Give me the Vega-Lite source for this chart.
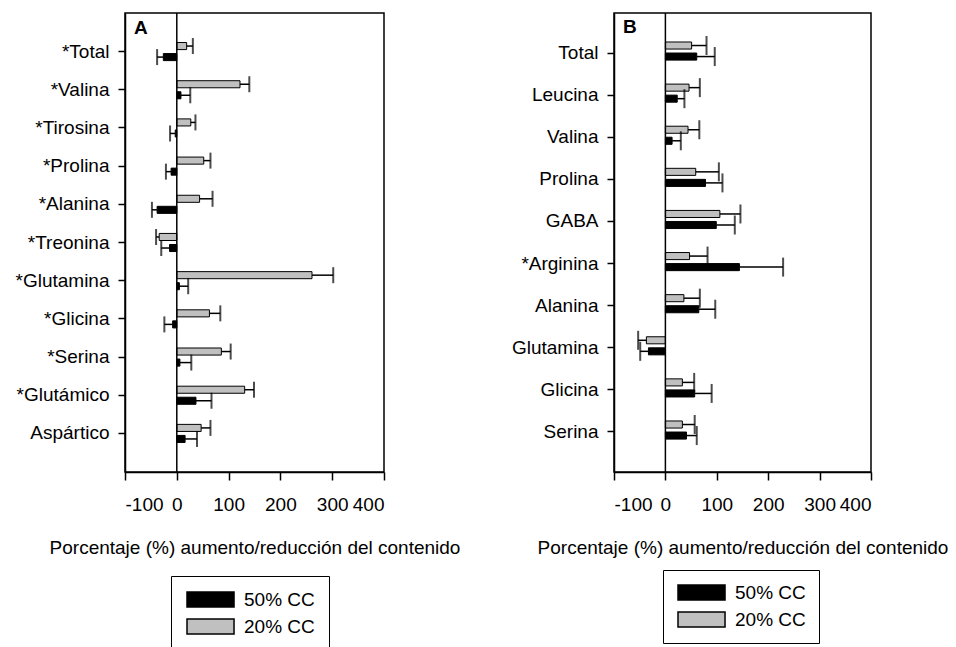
{
  "$schema": "https://vega.github.io/schema/vega-lite/v6.json",
  "padding": {"left": 14, "top": 11, "right": 0, "bottom": 0},
  "background": "white",
  "config": {
    "font": "Liberation Sans",
    "view": {"stroke": "black", "strokeWidth": 1.5},
    "axis": {"domainColor": "black", "domainWidth": 1.5, "tickColor": "black", "tickWidth": 1.5, "labelColor": "black", "titleColor": "black", "labelFont": "Liberation Sans", "titleFont": "Liberation Sans", "labelFontSize": 19, "titleFontSize": 19, "titleFontWeight": "normal", "grid": false},
    "legend": {"labelFont": "Liberation Sans", "labelFontSize": 19, "labelColor": "black"}
  },
  "datasets": {
    "d": [
      {"panel": "A", "amino": "*Total", "cond": "20% CC", "value": 19, "end": 31},
      {"panel": "A", "amino": "*Total", "cond": "50% CC", "value": -26, "end": -38},
      {"panel": "A", "amino": "*Valina", "cond": "20% CC", "value": 122, "end": 140},
      {"panel": "A", "amino": "*Valina", "cond": "50% CC", "value": 8, "end": 26},
      {"panel": "A", "amino": "*Tirosina", "cond": "20% CC", "value": 27, "end": 36},
      {"panel": "A", "amino": "*Tirosina", "cond": "50% CC", "value": -3, "end": -13},
      {"panel": "A", "amino": "*Prolina", "cond": "20% CC", "value": 52, "end": 65},
      {"panel": "A", "amino": "*Prolina", "cond": "50% CC", "value": -11, "end": -21},
      {"panel": "A", "amino": "*Alanina", "cond": "20% CC", "value": 44, "end": 69},
      {"panel": "A", "amino": "*Alanina", "cond": "50% CC", "value": -38, "end": -48},
      {"panel": "A", "amino": "*Treonina", "cond": "20% CC", "value": -34, "end": -40},
      {"panel": "A", "amino": "*Treonina", "cond": "50% CC", "value": -14, "end": -30},
      {"panel": "A", "amino": "*Glutamina", "cond": "20% CC", "value": 261, "end": 302},
      {"panel": "A", "amino": "*Glutamina", "cond": "50% CC", "value": 5, "end": 22},
      {"panel": "A", "amino": "*Glicina", "cond": "20% CC", "value": 63, "end": 84},
      {"panel": "A", "amino": "*Glicina", "cond": "50% CC", "value": -8, "end": -24},
      {"panel": "A", "amino": "*Serina", "cond": "20% CC", "value": 86, "end": 104},
      {"panel": "A", "amino": "*Serina", "cond": "50% CC", "value": 6, "end": 28},
      {"panel": "A", "amino": "*Glutámico", "cond": "20% CC", "value": 131, "end": 149},
      {"panel": "A", "amino": "*Glutámico", "cond": "50% CC", "value": 37, "end": 67},
      {"panel": "A", "amino": "Aspártico", "cond": "20% CC", "value": 47, "end": 65},
      {"panel": "A", "amino": "Aspártico", "cond": "50% CC", "value": 16, "end": 39},
      {"panel": "B", "amino": "Total", "cond": "20% CC", "value": 51, "end": 80},
      {"panel": "B", "amino": "Total", "cond": "50% CC", "value": 61, "end": 96},
      {"panel": "B", "amino": "Leucina", "cond": "20% CC", "value": 46, "end": 67},
      {"panel": "B", "amino": "Leucina", "cond": "50% CC", "value": 23, "end": 37},
      {"panel": "B", "amino": "Valina", "cond": "20% CC", "value": 44, "end": 66},
      {"panel": "B", "amino": "Valina", "cond": "50% CC", "value": 13, "end": 30},
      {"panel": "B", "amino": "Prolina", "cond": "20% CC", "value": 59, "end": 104},
      {"panel": "B", "amino": "Prolina", "cond": "50% CC", "value": 78, "end": 111},
      {"panel": "B", "amino": "GABA", "cond": "20% CC", "value": 106, "end": 146},
      {"panel": "B", "amino": "GABA", "cond": "50% CC", "value": 99, "end": 135},
      {"panel": "B", "amino": "*Arginina", "cond": "20% CC", "value": 47, "end": 82},
      {"panel": "B", "amino": "*Arginina", "cond": "50% CC", "value": 144, "end": 229},
      {"panel": "B", "amino": "Alanina", "cond": "20% CC", "value": 36, "end": 67},
      {"panel": "B", "amino": "Alanina", "cond": "50% CC", "value": 65, "end": 97},
      {"panel": "B", "amino": "Glutamina", "cond": "20% CC", "value": -37, "end": -53},
      {"panel": "B", "amino": "Glutamina", "cond": "50% CC", "value": -33, "end": -49},
      {"panel": "B", "amino": "Glicina", "cond": "20% CC", "value": 33, "end": 56},
      {"panel": "B", "amino": "Glicina", "cond": "50% CC", "value": 57, "end": 90},
      {"panel": "B", "amino": "Serina", "cond": "20% CC", "value": 33, "end": 57},
      {"panel": "B", "amino": "Serina", "cond": "50% CC", "value": 41, "end": 61}
    ]
  },
  "bounds": "flush",
  "spacing": 230,
  "resolve": {"scale": {"color": "independent"}, "legend": {"color": "independent"}},
  "hconcat": [
    {
      "width": 259,
      "height": 459,
      "data": {"name": "d"},
      "transform": [{"filter": "datum.panel == 'A'"}],
      "layer": [
        {
          "mark": {"type": "bar", "stroke": "black", "strokeWidth": 1},
          "encoding": {
            "y": {"field": "amino", "type": "nominal", "scale": {"domain": ["*Total", "*Valina", "*Tirosina", "*Prolina", "*Alanina", "*Treonina", "*Glutamina", "*Glicina", "*Serina", "*Glutámico", "Aspártico"], "paddingInner": 0, "paddingOuter": 0.51}, "axis": {"title": null, "tickSize": 7, "labelPadding": 9}},
            "yOffset": {"field": "cond", "type": "nominal", "scale": {"domain": ["20% CC", "50% CC"], "paddingInner": 0.36, "paddingOuter": 0.91}},
            "x": {"field": "value", "type": "quantitative", "scale": {"domain": [-100, 400], "nice": false}, "axis": {"values": [-100, 0, 100, 200, 300, 400], "labelExpr": "'' + datum.value", "tickSize": 8, "labelPadding": 15, "title": "Porcentaje (%) aumento/reducción del contenido", "titlePadding": 24}},
            "color": {"field": "cond", "type": "nominal", "scale": {"domain": ["50% CC", "20% CC"], "range": ["black", "#c0c0c0"]},
              "legend": {"orient": "none", "legendX": 46, "legendY": 563, "title": null, "strokeColor": "black", "fillColor": "white", "padding": 14, "symbolType": "M-1,-1L5.27,-1L5.27,1L-1,1Z", "symbolSize": 225, "symbolStrokeColor": "black", "symbolStrokeWidth": 1.5, "labelOffset": 40, "rowPadding": 6}}
          }
        },
        {
          "mark": {"type": "rule", "color": "black", "strokeWidth": 1.5},
          "encoding": {
            "y": {"field": "amino", "type": "nominal"},
            "yOffset": {"field": "cond", "type": "nominal"},
            "x": {"field": "value", "type": "quantitative"},
            "x2": {"field": "end"}
          }
        },
        {
          "mark": {"type": "tick", "color": "black", "thickness": 2, "size": 16},
          "encoding": {
            "y": {"field": "amino", "type": "nominal"},
            "yOffset": {"field": "cond", "type": "nominal"},
            "x": {"field": "end", "type": "quantitative"}
          }
        },
        {
          "data": {"values": [{"z": 0}]},
          "mark": {"type": "rule", "color": "black", "strokeWidth": 1.5},
          "encoding": {"x": {"field": "z", "type": "quantitative"}}
        },
        {
          "data": {"values": [{"px": -100, "py": "*Total", "label": "A"}]},
          "mark": {"type": "text", "font": "Liberation Sans", "fontSize": 19, "fontWeight": "bold", "color": "black", "align": "left", "baseline": "middle", "dx": 9, "dy": -24},
          "encoding": {
            "x": {"field": "px", "type": "quantitative"},
            "y": {"field": "py", "type": "nominal"},
            "text": {"field": "label"}
          }
        }
      ]
    },
    {
      "width": 257,
      "height": 459,
      "data": {"name": "d"},
      "transform": [{"filter": "datum.panel == 'B'"}],
      "layer": [
        {
          "mark": {"type": "bar", "stroke": "black", "strokeWidth": 1},
          "encoding": {
            "y": {"field": "amino", "type": "nominal", "scale": {"domain": ["Total", "Leucina", "Valina", "Prolina", "GABA", "*Arginina", "Alanina", "Glutamina", "Glicina", "Serina"], "paddingInner": 0, "paddingOuter": 0.45}, "axis": {"title": null, "tickSize": 7, "labelPadding": 9}},
            "yOffset": {"field": "cond", "type": "nominal", "scale": {"domain": ["20% CC", "50% CC"], "paddingInner": 0.32, "paddingOuter": 0.81}},
            "x": {"field": "value", "type": "quantitative", "scale": {"domain": [-100, 400], "nice": false}, "axis": {"values": [-100, 0, 100, 200, 300, 400], "labelExpr": "'' + datum.value", "tickSize": 8, "labelPadding": 15, "title": "Porcentaje (%) aumento/reducción del contenido", "titlePadding": 24}},
            "color": {"field": "cond", "type": "nominal", "scale": {"domain": ["50% CC", "20% CC"], "range": ["black", "#c0c0c0"]},
              "legend": {"orient": "none", "legendX": 49, "legendY": 557, "title": null, "strokeColor": "black", "fillColor": "white", "padding": 13, "symbolType": "M-1,-1L5.27,-1L5.27,1L-1,1Z", "symbolSize": 225, "symbolStrokeColor": "black", "symbolStrokeWidth": 1.5, "labelOffset": 40, "rowPadding": 6}}
          }
        },
        {
          "mark": {"type": "rule", "color": "black", "strokeWidth": 1.5},
          "encoding": {
            "y": {"field": "amino", "type": "nominal"},
            "yOffset": {"field": "cond", "type": "nominal"},
            "x": {"field": "value", "type": "quantitative"},
            "x2": {"field": "end"}
          }
        },
        {
          "mark": {"type": "tick", "color": "black", "thickness": 2, "size": 19},
          "encoding": {
            "y": {"field": "amino", "type": "nominal"},
            "yOffset": {"field": "cond", "type": "nominal"},
            "x": {"field": "end", "type": "quantitative"}
          }
        },
        {
          "data": {"values": [{"z": 0}]},
          "mark": {"type": "rule", "color": "black", "strokeWidth": 1.5},
          "encoding": {"x": {"field": "z", "type": "quantitative"}}
        },
        {
          "data": {"values": [{"px": -100, "py": "Total", "label": "B"}]},
          "mark": {"type": "text", "font": "Liberation Sans", "fontSize": 19, "fontWeight": "bold", "color": "black", "align": "left", "baseline": "middle", "dx": 9, "dy": -26},
          "encoding": {
            "x": {"field": "px", "type": "quantitative"},
            "y": {"field": "py", "type": "nominal"},
            "text": {"field": "label"}
          }
        }
      ]
    }
  ]
}
